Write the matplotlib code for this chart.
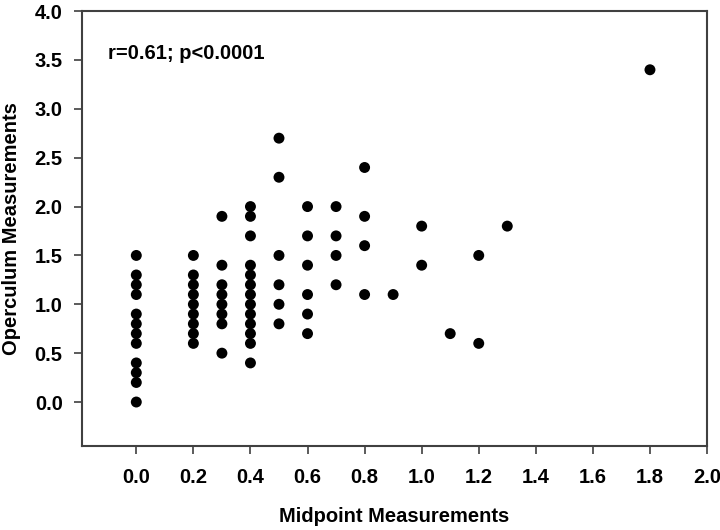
import matplotlib
matplotlib.use("Agg")
import matplotlib.pyplot as plt

plt.rcParams['font.family'] = ['Liberation Sans', 'DejaVu Sans']

# Data (x = midpoint, y = operculum)
x_0_0 = [0.0] * 12
y_0_0 = [1.5, 1.3, 1.2, 1.1, 0.9, 0.8, 0.7, 0.6, 0.4, 0.3, 0.2, 0.0]
x_0_2 = [0.2] * 9
y_0_2 = [1.5, 1.3, 1.2, 1.1, 1.0, 0.9, 0.8, 0.7, 0.6]
x_0_3 = [0.3] * 8
y_0_3 = [1.9, 1.4, 1.2, 1.1, 1.0, 0.9, 0.8, 0.5]
x_0_4 = [0.4] * 13
y_0_4 = [2.0, 1.9, 1.7, 1.4, 1.3, 1.2, 1.1, 1.0, 0.9, 0.8, 0.7, 0.6, 0.4]
x_0_5 = [0.5] * 6
y_0_5 = [2.7, 2.3, 1.5, 1.2, 1.0, 0.8]
x_0_6 = [0.6] * 6
y_0_6 = [2.0, 1.7, 1.4, 1.1, 0.9, 0.7]
x_0_7 = [0.7] * 4
y_0_7 = [2.0, 1.7, 1.5, 1.2]
x_0_8 = [0.8] * 4
y_0_8 = [2.4, 1.9, 1.6, 1.1]
x_rest = [0.9, 1.0, 1.0, 1.1, 1.2, 1.2, 1.3, 1.8]
y_rest = [1.1, 1.8, 1.4, 0.7, 1.5, 0.6, 1.8, 3.4]

midpoint = x_0_0 + x_0_2 + x_0_3 + x_0_4 + x_0_5 + x_0_6 + x_0_7 + x_0_8 + x_rest
operculum = y_0_0 + y_0_2 + y_0_3 + y_0_4 + y_0_5 + y_0_6 + y_0_7 + y_0_8 + y_rest

x_ticks = [0.0, 0.2, 0.4, 0.6, 0.8, 1.0, 1.2, 1.4, 1.6, 1.8, 2.0]
y_ticks = [0.0, 0.5, 1.0, 1.5, 2.0, 2.5, 3.0, 3.5, 4.0]
annotation = "r=0.61; p<0.0001"

fig = plt.figure(figsize=(7.2, 5.3), dpi=100)
ax = fig.add_axes([0.114, 0.1585, 0.868, 0.8205])

ax.scatter(midpoint, operculum, s=62, color='black', edgecolors='none', zorder=3)

ax.set_xlim(-0.19, 2.0)
ax.set_ylim(-0.45, 4.0)
ax.set_xticks(x_ticks)
ax.set_yticks(y_ticks)
ax.set_xticklabels([f"{v:.1f}" for v in x_ticks])
ax.set_yticklabels([f"{v:.1f}" for v in y_ticks])

spine_color = '#404040'
for sp in ax.spines.values():
    sp.set_color(spine_color)
    sp.set_linewidth(1.5)

ax.tick_params(axis='both', direction='out', length=6, width=1.2, color=spine_color,
               labelsize=14.5, labelcolor='black')
ax.tick_params(axis='x', pad=10)
ax.tick_params(axis='y', pad=8)
for lab in ax.get_xticklabels() + ax.get_yticklabels():
    lab.set_fontweight('bold')

ax.set_xlabel("Midpoint Measurements", fontsize=14.5, fontweight='bold', labelpad=14)
ax.set_ylabel("Operculum Measurements", fontsize=14.5, fontweight='bold', labelpad=10)

ax.text(-0.10, 3.57, annotation, fontsize=14.5, fontweight='bold', ha='left', va='center')

fig.savefig("out.png", dpi=100)
